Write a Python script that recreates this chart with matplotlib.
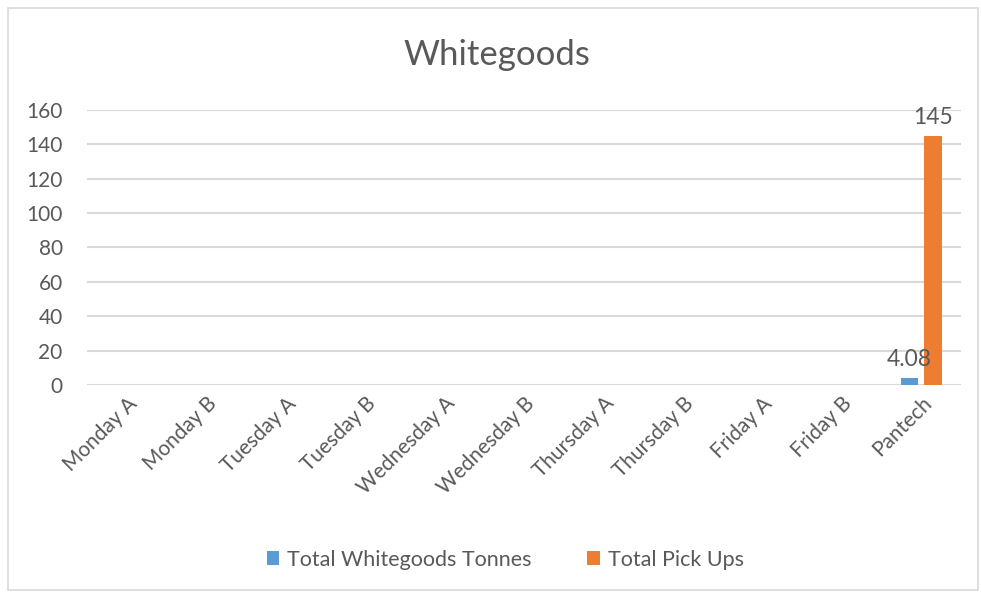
import numpy as np
import matplotlib.pyplot as plt
from matplotlib.patches import Rectangle

categories = ["Monday A", "Monday B", "Tuesday A", "Tuesday B", "Wednesday A",
              "Wednesday B", "Thursday A", "Thursday B", "Friday A", "Friday B", "Pantech"]
tonnes = [0, 0, 0, 0, 0, 0, 0, 0, 0, 0, 4.08]
pickups = [0, 0, 0, 0, 0, 0, 0, 0, 0, 0, 145]
yticks = [0, 20, 40, 60, 80, 100, 120, 140, 160]

BLUE = "#5b9bd5"
ORANGE = "#ed7d31"
TXT = "#595959"
GRID = "#d9d9d9"

plt.rcParams["font.family"] = ["Lato", "DejaVu Sans"]

fig = plt.figure(figsize=(9.81, 5.93), dpi=100)
ax = fig.add_axes([0.0887, 0.3508, 0.8909, 0.4637])

# chart border
fig.patches.append(Rectangle((8 / 981, 3 / 593), 970 / 981, 582 / 593,
                             transform=fig.transFigure, fill=False,
                             edgecolor=GRID, linewidth=1.2))

x = np.arange(len(categories))
w = 0.215
off = 0.148
b1 = ax.bar(x - off, tonnes, w, color=BLUE, label="Total Whitegoods Tonnes", zorder=3)
b2 = ax.bar(x + off, pickups, w, color=ORANGE, label="Total Pick Ups", zorder=3)

# only the non-zero values get labels
for xi, v in zip(x, tonnes):
    if v:
        ax.text(xi - off, v + 4.5, f"{v:g}", ha="center", va="bottom", fontsize=16.5, color=TXT)
for xi, v in zip(x, pickups):
    if v:
        ax.text(xi + off, v + 4.5, f"{v:g}", ha="center", va="bottom", fontsize=16.5, color=TXT)

ax.set_xlim(-0.5, len(categories) - 0.5)
ax.set_ylim(0, 160)
ax.set_yticks(yticks)
ax.grid(axis="y", color=GRID, linewidth=1.5, zorder=0)
ax.set_axisbelow(True)
for s in ax.spines.values():
    s.set_visible(False)
ax.tick_params(length=0, colors=TXT, labelsize=15)
ax.tick_params(axis="y", pad=17.5)
ax.set_xticks(x)
ax.set_xticklabels(categories, rotation=45, ha="right", va="top", rotation_mode="anchor")
ax.tick_params(axis="x", pad=6)

fig.text(0.507, 0.907, "Whitegoods", ha="center", va="center", fontsize=25, color=TXT)

fig.legend(handles=[b1, b2], loc="center", bbox_to_anchor=(0.515, 0.056), ncol=2,
           frameon=False, fontsize=15.5, labelcolor=TXT, handlelength=0.6,
           handleheight=0.6, handletextpad=0.35, columnspacing=2.6)

fig.savefig("out.png", dpi=100)
